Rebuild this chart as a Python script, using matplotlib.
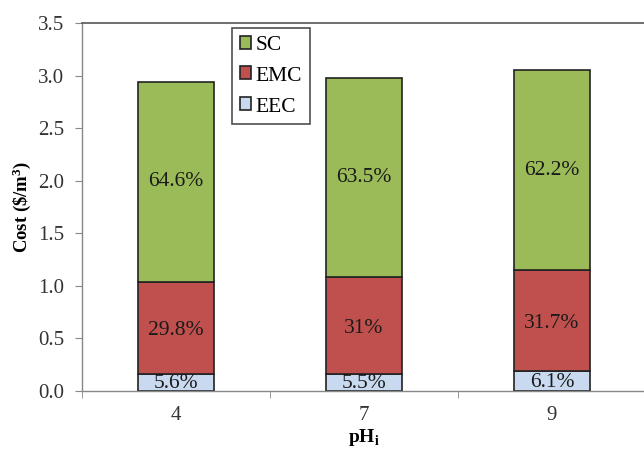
import matplotlib
matplotlib.use("Agg")
import matplotlib.pyplot as plt
import numpy as np

plt.rcParams['font.family'] = ['Liberation Serif', 'DejaVu Serif']
plt.rcParams['mathtext.fontset'] = 'custom'
plt.rcParams['mathtext.rm'] = 'Liberation Serif'
plt.rcParams['mathtext.bf'] = 'Liberation Serif:bold'

# Initial pH values and total treatment cost ($/m3)
ph_labels = ['4', '7', '9']
total_cost = [2.94, 2.98, 3.05]

# Cost shares (%) for each component
eec_pct = [5.6, 5.5, 6.1]
emc_pct = [29.8, 31.0, 31.7]
sc_pct = [64.6, 63.5, 62.2]
pct_text = {
    'EEC': ['5.6%', '5.5%', '6.1%'],
    'EMC': ['29.8%', '31%', '31.7%'],
    'SC': ['64.6%', '63.5%', '62.2%'],
}

tot = np.array(total_cost)
eec = tot * np.array(eec_pct) / 100
emc = tot * np.array(emc_pct) / 100
sc = tot * np.array(sc_pct) / 100

fig = plt.figure(figsize=(6.44, 4.49), dpi=100)
ax = fig.add_axes([82/644, 1-391/449, 564/644, (391-23)/449])

x = np.arange(len(ph_labels))
w = 0.405
edge = dict(edgecolor='#222222', linewidth=1.2)
b1 = ax.bar(x, eec, w, color='#C9DAF0', label='EEC', **edge)
b2 = ax.bar(x, emc, w, bottom=eec, color='#C0504D', label='EMC', **edge)
b3 = ax.bar(x, sc, w, bottom=eec + emc, color='#9BBB59', label='SC', **edge)

txt = dict(ha='center', va='center', fontsize=15.5, color='#1a1a1a')
for i in range(len(x)):
    ax.text(x[i], eec[i] / 2 - 0.01, pct_text['EEC'][i], clip_on=True, **txt)
    ax.text(x[i], eec[i] + emc[i] / 2 - 0.03, pct_text['EMC'][i], **txt)
    ax.text(x[i], eec[i] + emc[i] + sc[i] / 2, pct_text['SC'][i], **txt)

ax.set_xlim(-0.5, 2.5)
ax.set_ylim(0, 3.5)
ax.set_yticks(np.arange(0, 3.51, 0.5))
ax.set_yticklabels([f'{v:.1f}' for v in np.arange(0, 3.51, 0.5)])
ax.set_xticks(x)
ax.set_xticklabels(ph_labels)
ax.set_xticks([-0.5, 0.5, 1.5, 2.5], minor=True)
ax.tick_params(axis='x', which='major', length=0, pad=11, labelsize=15, labelcolor='#333333')
ax.tick_params(axis='x', which='minor', length=5, direction='out', color='#888888')
ax.tick_params(axis='y', length=5, direction='out', color='#888888', labelsize=15,
               labelcolor='#333333', pad=8)

for s in ['left', 'bottom']:
    ax.spines[s].set_color('#888888')
    ax.spines[s].set_linewidth(1.0)
ax.spines['top'].set_color('#555555')
ax.spines['top'].set_linewidth(1.2)
ax.spines['right'].set_color('#555555')

ax.set_ylabel('Cost ($\\mathbf{\\$/m^3}$)', fontsize=13.5, fontweight='bold')
ax.yaxis.set_label_coords(-49/564, 0.5)
ax.set_xlabel('pH$_\\mathbf{i}$', fontsize=14, fontweight='bold', labelpad=1)

leg = ax.legend(handles=[b3, b2, b1], loc='upper left', bbox_to_anchor=(150/564, 1 - 5/368),
                fontsize=15.5, frameon=True, fancybox=False, edgecolor='#222222',
                handlelength=0.55, handleheight=0.55, handletextpad=0.2,
                labelspacing=0.55, borderpad=0.35, borderaxespad=0)
leg.get_frame().set_linewidth(1.2)

fig.savefig('out.png', dpi=100)
